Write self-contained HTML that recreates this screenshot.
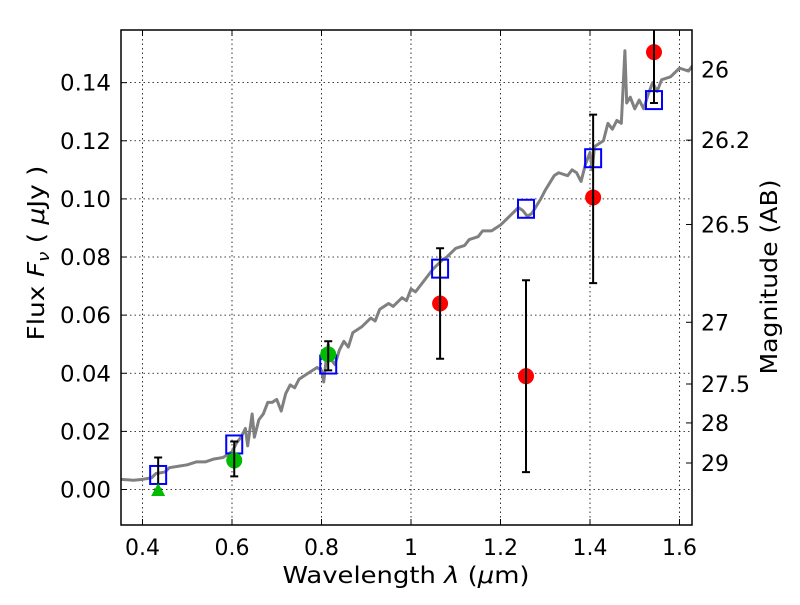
<!DOCTYPE html>
<html><head><meta charset="utf-8"><style>
body{margin:0;background:#fff}
text{font-family:"DejaVu Sans","Liberation Sans",sans-serif;fill:#000}
</style></head><body>
<svg id="chart" width="800" height="600" viewBox="0 0 800 600" xmlns="http://www.w3.org/2000/svg"></svg>
<script>
const xTicks=[0.4,0.6,0.8,1.0,1.2,1.4,1.6];
const xTickLabels=["0.4","0.6","0.8","1","1.2","1.4","1.6"];
const yTicks=[0,0.02,0.04,0.06,0.08,0.10,0.12,0.14];
const yTickLabels=["0.00","0.02","0.04","0.06","0.08","0.10","0.12","0.14"];
const magTicks=[26,26.2,26.5,27,27.5,28,29];
const magTickLabels=["26","26.2","26.5","27","27.5","28","29"];
const specWl=[0.35,0.38,0.40,0.42,0.43,0.45,0.46,0.48,0.50,0.52,0.54,0.56,0.58,0.60,0.61,0.62,0.63,0.635,0.645,0.65,0.66,0.67,0.68,0.69,0.70,0.71,0.72,0.73,0.74,0.75,0.77,0.79,0.80,0.805,0.81,0.815,0.82,0.83,0.84,0.85,0.86,0.87,0.89,0.91,0.92,0.93,0.95,0.96,0.98,0.99,1.00,1.01,1.03,1.05,1.07,1.08,1.10,1.12,1.13,1.15,1.16,1.18,1.20,1.22,1.24,1.25,1.26,1.27,1.29,1.30,1.32,1.33,1.35,1.36,1.37,1.38,1.39,1.40,1.405,1.41,1.43,1.44,1.45,1.46,1.47,1.478,1.482,1.49,1.50,1.51,1.52,1.53,1.54,1.55,1.56,1.58,1.60,1.62,1.63];
const specFlux=[0.0035,0.0032,0.0035,0.004,0.0055,0.006,0.0075,0.008,0.0085,0.0095,0.0095,0.0105,0.011,0.013,0.016,0.018,0.021,0.015,0.026,0.018,0.024,0.026,0.030,0.030,0.031,0.027,0.033,0.036,0.035,0.038,0.040,0.042,0.041,0.037,0.044,0.050,0.045,0.043,0.048,0.051,0.049,0.054,0.056,0.059,0.058,0.062,0.064,0.063,0.066,0.065,0.069,0.068,0.072,0.076,0.079,0.080,0.083,0.084,0.086,0.087,0.089,0.089,0.091,0.094,0.097,0.096,0.094,0.095,0.100,0.103,0.108,0.109,0.108,0.110,0.109,0.106,0.112,0.116,0.110,0.118,0.120,0.126,0.124,0.127,0.126,0.151,0.133,0.135,0.131,0.134,0.131,0.136,0.140,0.137,0.141,0.142,0.145,0.144,0.146];
const modelWl=[0.435,0.605,0.815,1.065,1.257,1.407,1.543];
const modelFlux=[0.005,0.0155,0.043,0.076,0.0966,0.114,0.134];
const greenWl=[0.605,0.815];
const greenFlux=[0.010,0.0465];
const greenLo=[0.0045,0.041];
const greenHi=[0.0165,0.051];
const triWl=[0.435];
const triFlux=[-0.0005];
const triLo=[0.0];
const triHi=[0.011];
const redWl=[1.065,1.257,1.407,1.543];
const redFlux=[0.064,0.039,0.1005,0.1505];
const redLo=[0.045,0.006,0.071,0.133];
const redHi=[0.083,0.072,0.129,0.170];

const L=121,R=692,T=30,B=525;
const X=v=>142.5+(v-0.4)*447.5;
const Y=v=>489.5-v*2906;
const NS="http://www.w3.org/2000/svg";
const svg=document.getElementById('chart');
function mk(tag,at,parent){const e=document.createElementNS(NS,tag);for(const k in at)e.setAttribute(k,at[k]);(parent||svg).appendChild(e);return e;}
const clip=mk('clipPath',{id:'pc'});mk('rect',{x:L,y:T,width:R-L,height:B-T},clip);
xTicks.forEach((t,i)=>{const g=mk('line',{x1:X(t),x2:X(t),y1:T,y2:B,stroke:'#000','stroke-width':0.8,'stroke-dasharray':'1.5,3'});

const tk=mk('line',{x1:X(t),x2:X(t),y1:B,y2:B-6,stroke:'#000'});
const tk2=mk('line',{x1:X(t),x2:X(t),y1:T,y2:T+6,stroke:'#000'});
const tx=mk('text',{x:X(t),y:555,'text-anchor':'middle','font-size':22});tx.textContent=xTickLabels[i];
});
yTicks.forEach((t,i)=>{const g=mk('line',{x1:L,x2:R,y1:Y(t),y2:Y(t),stroke:'#000','stroke-width':0.8,'stroke-dasharray':'1.5,3'});

const tk=mk('line',{x1:L,x2:L+6,y1:Y(t),y2:Y(t),stroke:'#000'});
const tx=mk('text',{x:111,y:Y(t)+8,'text-anchor':'end','font-size':22,textLength:51,lengthAdjust:'spacingAndGlyphs'});tx.textContent=yTickLabels[i];
});
magTicks.forEach((m,i)=>{const f=Math.pow(10,(23.9-m)/2.5);const y=Y(f);
const tk=mk('line',{x1:R,x2:R-6,y1:y,y2:y,stroke:'#000'});
const tx=mk('text',{x:701,y:y+8,'font-size':22});tx.textContent=magTickLabels[i];
});
const gp=mk('g',{'clip-path':'url(#pc)'});
const sp=mk('polyline',{points:specWl.map((w,i)=>X(w)+','+Y(specFlux[i])).join(' '),fill:'none',stroke:'#808080','stroke-width':3,'stroke-linejoin':'round'},gp);

function err(wl,lo,hi,name){wl.forEach((w,i)=>{const x=X(w);
const l=mk('path',{d:`M${x},${Y(lo[i])}V${Y(hi[i])}M${x-4},${Y(lo[i])}H${x+4}M${x-4},${Y(hi[i])}H${x+4}`,stroke:'#000','stroke-width':2,fill:'none'},gp);
});}
modelWl.forEach((w,i)=>{const s=mk('rect',{x:X(w)-8,y:Y(modelFlux[i])-9,width:16,height:18,fill:'none',stroke:'#0000ff','stroke-width':2},gp);
});
err(triWl,triLo,triHi,'triangle-errorbar');
triWl.forEach((w,i)=>{const x=X(w),y=Y(triFlux[i]);const p=mk('polygon',{points:`${x},${y-8} ${x-7},${y+5} ${x+7},${y+5}`,fill:'#00bb00'},gp);
});
greenWl.forEach((w,i)=>{const c=mk('circle',{cx:X(w),cy:Y(greenFlux[i]),r:8,fill:'#00bb00'},gp);
});
err(greenWl,greenLo,greenHi,'green-errorbar');
redWl.forEach((w,i)=>{const c=mk('circle',{cx:X(w),cy:Y(redFlux[i]),r:8,fill:'#ff0000'},gp);
});
err(redWl,redLo,redHi,'red-errorbar');
const fr=mk('rect',{x:L,y:T,width:R-L,height:B-T,fill:'none',stroke:'#000','stroke-width':1.5});

</script>
<svg style="position:absolute;left:0;top:0" width="800" height="600">
<text x="406" y="583" text-anchor="middle" font-size="23" textLength="247" lengthAdjust="spacingAndGlyphs" style="font-family:'DejaVu Sans',sans-serif">Wavelength  <tspan font-style="italic">λ</tspan> (<tspan font-style="italic">μ</tspan>m)</text>
<text transform="translate(44,253) rotate(-90)" text-anchor="middle" font-size="23" textLength="175" lengthAdjust="spacingAndGlyphs" style="font-family:'DejaVu Sans',sans-serif">Flux  <tspan font-style="italic">F</tspan><tspan font-style="italic" font-size="16" dy="5">ν</tspan><tspan dy="-5">  ( </tspan><tspan font-style="italic">μ</tspan>Jy )</text>
<text transform="translate(777,277) rotate(-90)" text-anchor="middle" font-size="23" textLength="195" lengthAdjust="spacingAndGlyphs" style="font-family:'DejaVu Sans',sans-serif">Magnitude (AB)</text>
</svg>
</body></html>
